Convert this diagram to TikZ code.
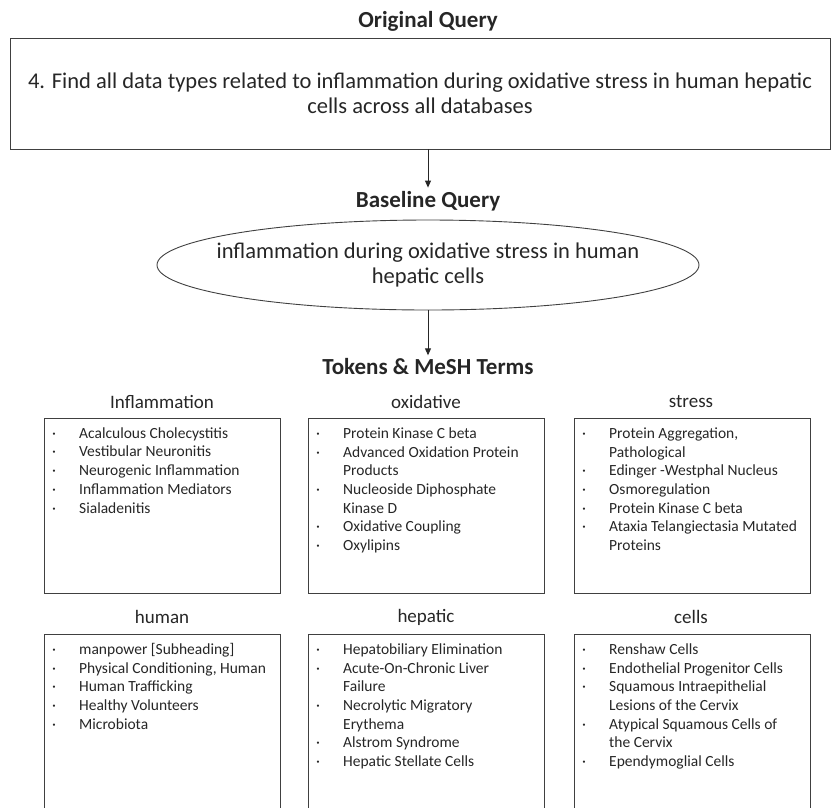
\documentclass[tikz,border=0pt]{standalone}
\usepackage{fontspec}
\setmainfont{Carlito}
\usetikzlibrary{shapes.geometric,arrows.meta}
\newcommand{\dt}{\textperiodcentered}

\begin{document}
\begin{tikzpicture}[x=1pt,y=-1pt,
    every node/.style={text=black!85},
    title/.style={font=\fontsize{23}{27}\selectfont\bfseries},
    token/.style={font=\fontsize{19}{22}\selectfont},
    querytext/.style={align=center,font=\fontsize{22.5}{25}\selectfont},
    querybox/.style={querytext,draw=black!75,line width=0.9pt},
    termbox/.style={draw=black!75,line width=0.9pt,minimum width=236pt,minimum height=175pt,anchor=north west,inner sep=0pt},
    termlist/.style={anchor=north west,inner sep=0pt,font=\fontsize{15.5}{18.7}\selectfont},
    flow/.style={-{Triangle[length=7pt,width=6pt]},line width=0.9pt,black!85}]
  \clip (0,0) rectangle (833,807);
  \node[title] (orig) at (428,21) {Original Query};
  \node[querybox,minimum width=820pt,minimum height=111pt] (query) at (420,93.5)
    {4. Find all data types related to inflammation during oxidative stress in human hepatic\\cells across all databases};
  \node[title] (basetitle) at (428,201) {Baseline Query};
  \node[ellipse,draw=black!75,line width=0.9pt,minimum width=542pt,minimum height=90pt] (baseline) at (428,265) {};
  \node[querytext] (basetext) at (baseline.center)
    {inflammation during oxidative stress in human\\hepatic cells};
  \node[title] (tokens) at (428,367) {Tokens \& MeSH Terms};
  \draw[flow] (query.south -| basetitle) -- (basetitle.north);
  \draw[flow] (baseline.south) -- (tokens.north);

  \node[token] (hinfl) at (162,402) {Inflammation};
  \node[token] (hoxid) at (426,402) {oxidative};
  \node[token] (hstress) at (691,402) {stress};
  \node[termbox] (binfl) at (44,418) {};
  \node[termbox] (boxid) at (308,418) {};
  \node[termbox] (bstress) at (574,418) {};

  \node[token] (hhuman) at (162,617) {human};
  \node[token] (hhepatic) at (426,617) {hepatic};
  \node[token] (hcells) at (691,617) {cells};
  \node[termbox,minimum height=200pt] (bhuman) at (44,634) {};
  \node[termbox,minimum height=200pt] (bhepatic) at (308,634) {};
  \node[termbox,minimum height=200pt] (bcells) at (574,634) {};

  \node[termlist] (linfl) at ([xshift=8pt,yshift=-7pt]binfl.north west) {\begin{tabular}{@{}p{27pt}@{}l@{}}
    \dt & Acalculous Cholecystitis\\
    \dt & Vestibular Neuronitis\\
    \dt & Neurogenic Inflammation\\
    \dt & Inflammation Mediators\\
    \dt & Sialadenitis
  \end{tabular}};
  \node[termlist] (loxid) at ([xshift=8pt,yshift=-7pt]boxid.north west) {\begin{tabular}{@{}p{27pt}@{}l@{}}
    \dt & Protein Kinase C beta\\
    \dt & Advanced Oxidation Protein\\
        & Products\\
    \dt & Nucleoside Diphosphate\\
        & Kinase D\\
    \dt & Oxidative Coupling\\
    \dt & Oxylipins
  \end{tabular}};
  \node[termlist] (lstress) at ([xshift=8pt,yshift=-7pt]bstress.north west) {\begin{tabular}{@{}p{27pt}@{}l@{}}
    \dt & Protein Aggregation,\\
        & Pathological\\
    \dt & Edinger -Westphal Nucleus\\
    \dt & Osmoregulation\\
    \dt & Protein Kinase C beta\\
    \dt & Ataxia Telangiectasia Mutated\\
        & Proteins
  \end{tabular}};
  \node[termlist] (lhuman) at ([xshift=8pt,yshift=-7pt]bhuman.north west) {\begin{tabular}{@{}p{27pt}@{}l@{}}
    \dt & manpower [Subheading]\\
    \dt & Physical Conditioning, Human\\
    \dt & Human Trafficking\\
    \dt & Healthy Volunteers\\
    \dt & Microbiota
  \end{tabular}};
  \node[termlist] (lhepatic) at ([xshift=8pt,yshift=-7pt]bhepatic.north west) {\begin{tabular}{@{}p{27pt}@{}l@{}}
    \dt & Hepatobiliary Elimination\\
    \dt & Acute-On-Chronic Liver\\
        & Failure\\
    \dt & Necrolytic Migratory\\
        & Erythema\\
    \dt & Alstrom Syndrome\\
    \dt & Hepatic Stellate Cells
  \end{tabular}};
  \node[termlist] (lcells) at ([xshift=8pt,yshift=-7pt]bcells.north west) {\begin{tabular}{@{}p{27pt}@{}l@{}}
    \dt & Renshaw Cells\\
    \dt & Endothelial Progenitor Cells\\
    \dt & Squamous Intraepithelial\\
        & Lesions of the Cervix\\
    \dt & Atypical Squamous Cells of\\
        & the Cervix\\
    \dt & Ependymoglial Cells
  \end{tabular}};
\end{tikzpicture}
\end{document}
